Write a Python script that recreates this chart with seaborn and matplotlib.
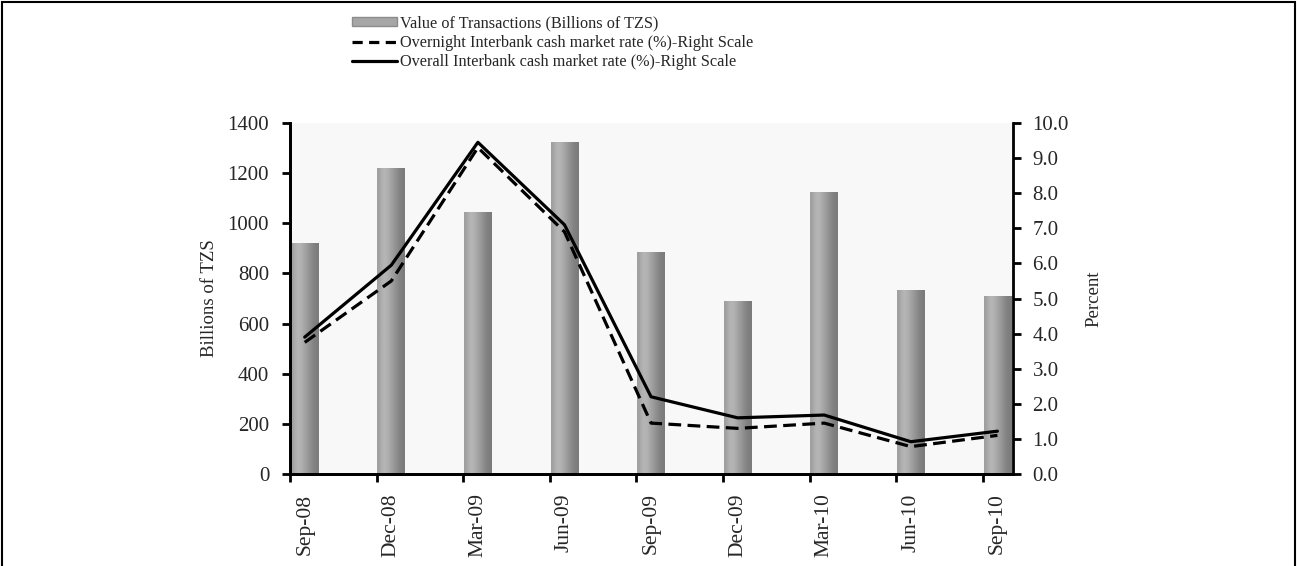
import numpy as np
import pandas as pd
import matplotlib
matplotlib.use("Agg")
import matplotlib.pyplot as plt
from matplotlib.patches import Patch, Rectangle
from matplotlib.lines import Line2D
import seaborn as sns

# data
quarters = ["Sep-08", "Dec-08", "Mar-09", "Jun-09", "Sep-09",
            "Dec-09", "Mar-10", "Jun-10", "Sep-10"]
value_tzs = [920, 1220, 1045, 1325, 885, 690, 1125, 735, 710]
overnight_rate = [3.75, 5.5, 9.3, 6.9, 1.45, 1.3, 1.45, 0.78, 1.1]
overall_rate = [3.9, 5.95, 9.45, 7.1, 2.2, 1.6, 1.68, 0.92, 1.22]

sns.set_style("white")
plt.rcParams["font.family"] = ["Liberation Serif", "DejaVu Serif"]

df = pd.DataFrame({"quarter": quarters, "value": value_tzs,
                   "overnight": overnight_rate, "overall": overall_rate})
df["pos"] = np.arange(len(df))

fig = plt.figure(figsize=(12.97, 5.66), dpi=100)
ax = fig.add_axes([290 / 1297, 1 - 474 / 566, (1013 - 290) / 1297, (474 - 123) / 566])
ax.set_facecolor("#f8f8f8")

sns.barplot(data=df, x="quarter", y="value", color="#9e9e9e", saturation=1,
            width=0.32, ax=ax)

# cylinder-like shading inside each bar
shade = np.array([[0.62, 0.72, 0.70, 0.64, 0.58, 0.52, 0.48]])
for p in list(ax.patches):
    x0, y0 = p.get_x(), p.get_y()
    w, h = p.get_width(), p.get_height()
    im = ax.imshow(shade, cmap="gray", vmin=0, vmax=1, aspect="auto",
                   extent=(x0, x0 + w, y0, y0 + h), interpolation="bicubic",
                   zorder=p.get_zorder() + 0.1)
    im.set_clip_path(p)
    p.set_edgecolor("none")
ax.set_aspect("auto")

ax2 = ax.twinx()
sns.lineplot(data=df, x="pos", y="overnight", color="black", lw=2.3, ax=ax2)
sns.lineplot(data=df, x="pos", y="overall", color="black", lw=2.3, ax=ax2)
ax2.lines[0].set_dashes((4, 2))

ax.set_ylim(0, 1400)
ax.set_yticks(range(0, 1401, 200))
ax2.set_ylim(0, 10)
ax2.set_yticks(np.arange(0, 10.01, 1.0))
ax2.set_yticklabels([f"{v:.1f}" for v in np.arange(0, 10.01, 1.0)])
ax.set_xlim(-0.15, 8.18)
ax2.set_xlim(-0.15, 8.18)

# labels sit on the bars, tick marks sit just left of each bar
ax.set_xticks(df["pos"])
ax.set_xticklabels(quarters, rotation=90)
ax.set_xticks(df["pos"] - 0.17, minor=True)
ax.tick_params(axis="x", which="major", length=0, pad=14, labelsize=15.5)
ax.tick_params(axis="x", which="minor", length=6, width=2, direction="out",
               bottom=True, color="black")
ax.tick_params(axis="y", length=6, width=2, direction="out", left=True,
               labelsize=15, pad=9, color="black")
ax2.tick_params(axis="y", length=6, width=2, direction="out", right=True,
                labelsize=15, pad=8, color="black")

ax.set_xlabel("")
ax.set_ylabel("Billions of TZS", fontsize=13.5, labelpad=7)
ax2.set_xlabel("")
ax2.set_ylabel("Percent", fontsize=13.5, labelpad=12)

for a in (ax, ax2):
    a.spines["top"].set_visible(False)
    for s in ("left", "right", "bottom"):
        a.spines[s].set_color("black")
        a.spines[s].set_linewidth(2)
ax.spines["right"].set_visible(False)
ax2.grid(False)
ax.grid(False)

handles = [
    Patch(facecolor="#a6a6a6", edgecolor="#8c8c8c"),
    Line2D([], [], color="black", lw=2.3, dashes=(3.2, 2)),
    Line2D([], [], color="black", lw=2.3),
]
labels = ["Value of Transactions (Billions of TZS)",
          "Overnight Interbank cash market rate (%)-Right Scale",
          "Overall Interbank cash market rate (%)-Right Scale"]
fig.legend(handles, labels, loc="upper left", bbox_to_anchor=(345.5 / 1297, 1 - 9 / 566),
           frameon=False, fontsize=11.7, handlelength=2.77, handleheight=0.45,
           handletextpad=0.2, labelspacing=0.2, borderaxespad=0)

fig.patches.append(Rectangle((2 / 1297, -0.05), 1 - 4 / 1297, 1.05 - 2 / 566,
                             transform=fig.transFigure, fill=False,
                             edgecolor="black", lw=1.5))

fig.savefig("out.png", dpi=100)
